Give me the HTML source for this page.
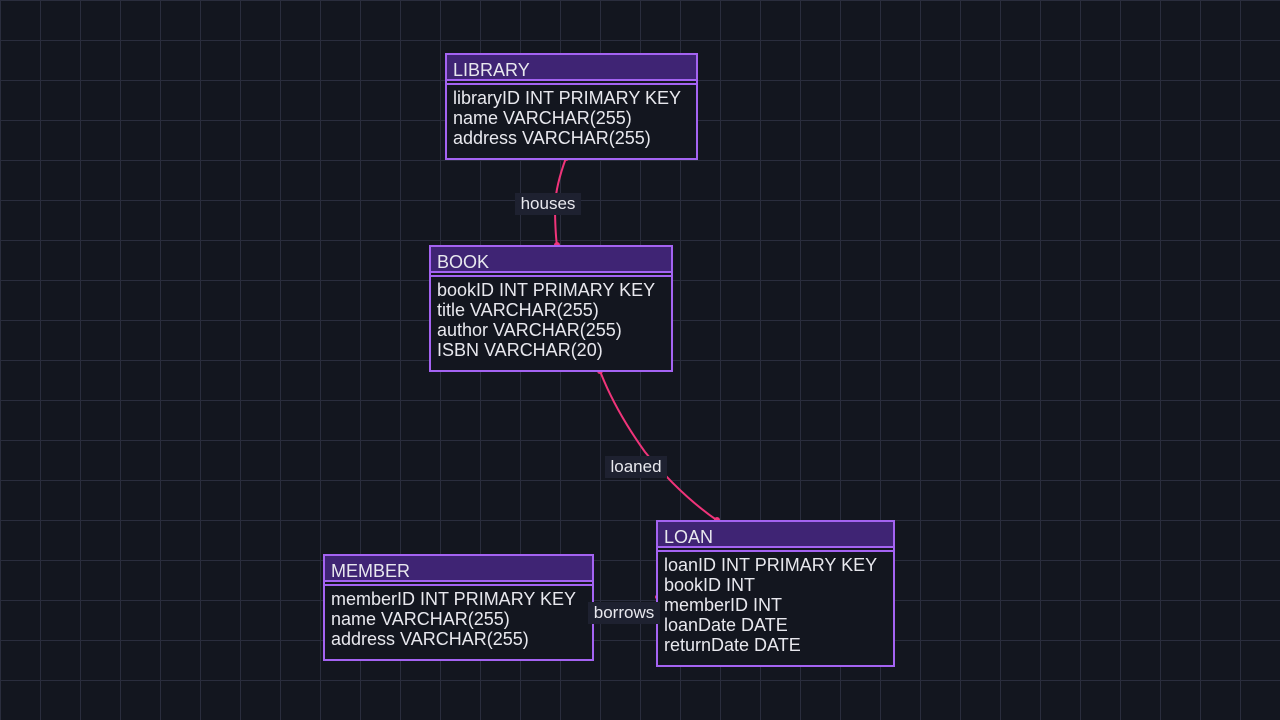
<!DOCTYPE html>
<html><head><style>
body{margin:0;width:1280px;height:720px;overflow:hidden;background:#13161f;
background-image:linear-gradient(#2a2d3d 1px,transparent 1px),linear-gradient(90deg,#2a2d3d 1px,transparent 1px);
background-size:40px 40px;background-position:0 0;font-family:"Liberation Sans",sans-serif;color:#e8e8ee;position:relative}
.e{position:absolute;border:2px solid #a463f2;background:#13161f;box-sizing:border-box}
.h{background:#3f2474;height:24px;line-height:30px;padding-left:6px;font-size:18px;border-bottom:2px solid #a463f2}
.s{height:2px;border-bottom:2px solid #a463f2;margin-top:0}
.b{padding:3px 6px;font-size:18px;line-height:20px;white-space:nowrap}
.l{position:absolute;background:#1e2130;font-size:17px;color:#e8e8ee;text-align:center;line-height:22px;height:22px}
svg{position:absolute;left:0;top:0}
</style></head><body>
<svg width="1280" height="720">
<g stroke="#f0347a" stroke-width="2" fill="none">
<path d="M566 158 Q556 185 555 205 Q555 230 557 246"/>
<path d="M600 371 Q615 410 645 452 Q680 495 718 521"/>
</g>
<g fill="#f0347a"><circle cx="566" cy="158" r="3"/><circle cx="557" cy="245" r="3"/><circle cx="600" cy="371" r="3"/><circle cx="717" cy="520" r="3"/><circle cx="657" cy="597" r="2"/></g>
</svg>
<div class="e" style="left:445px;top:53px;width:253px;height:107px"><div class="h">LIBRARY</div><div class="s"></div><div class="b">libraryID INT PRIMARY KEY<br>name VARCHAR(255)<br>address VARCHAR(255)</div></div>
<div class="e" style="left:429px;top:245px;width:244px;height:127px"><div class="h">BOOK</div><div class="s"></div><div class="b">bookID INT PRIMARY KEY<br>title VARCHAR(255)<br>author VARCHAR(255)<br>ISBN VARCHAR(20)</div></div>
<div class="e" style="left:656px;top:520px;width:239px;height:147px"><div class="h">LOAN</div><div class="s"></div><div class="b">loanID INT PRIMARY KEY<br>bookID INT<br>memberID INT<br>loanDate DATE<br>returnDate DATE</div></div>
<div class="e" style="left:323px;top:554px;width:271px;height:107px"><div class="h">MEMBER</div><div class="s"></div><div class="b">memberID INT PRIMARY KEY<br>name VARCHAR(255)<br>address VARCHAR(255)</div></div>
<div class="l" style="left:515px;top:193px;width:66px">houses</div>
<div class="l" style="left:605px;top:456px;width:62px">loaned</div>
<div class="l" style="left:588px;top:602px;width:72px">borrows</div>
</body></html>
